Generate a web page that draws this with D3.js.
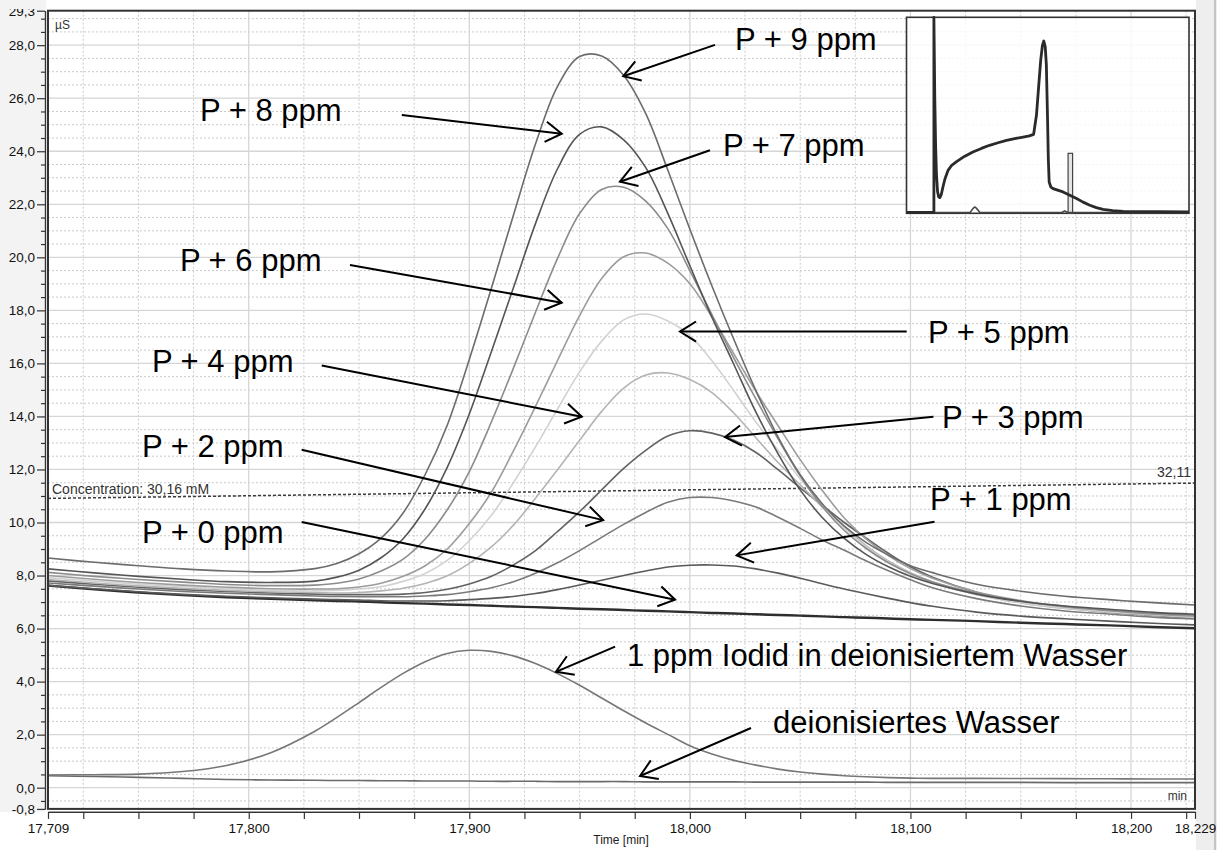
<!DOCTYPE html>
<html>
<head>
<meta charset="utf-8">
<script src="https://cdn.jsdelivr.net/npm/d3@7/dist/d3.min.js"></script>
<style>
  body { margin: 0; background: #fff; }
  text { font-family: "Liberation Sans", Arial, sans-serif; }
</style>
</head>
<body>
<div id="graphic"></div>
<script>
// sample times (min), shared by all traces
var times = [17.709, 17.73, 17.75, 17.77, 17.79, 17.81, 17.83, 17.84, 17.85, 17.86, 17.87, 17.88, 17.89, 17.90,
  17.91, 17.92, 17.93, 17.94, 17.95, 17.96, 17.97, 17.98, 17.99, 18.00, 18.01, 18.02, 18.03, 18.04, 18.05,
  18.06, 18.07, 18.08, 18.09, 18.10, 18.11, 18.13, 18.15, 18.17, 18.19, 18.21, 18.229];

// conductivity in µS
var p9 = [8.66, 8.50, 8.37, 8.25, 8.17, 8.14, 8.26, 8.45, 8.82, 9.41, 10.36, 11.81, 13.67, 16.15, 18.83, 21.59, 24.27,
  26.45, 27.57, 27.59, 26.86, 25.42, 23.29, 21.06, 18.92, 16.89, 14.96, 13.22, 11.80, 10.71, 9.86, 9.24, 8.77, 8.37,
  8.11, 7.67, 7.41, 7.22, 7.09, 6.98, 6.89];
var p8 = [8.25, 8.10, 7.97, 7.86, 7.77, 7.74, 7.79, 7.94, 8.20, 8.67, 9.39, 10.52, 12.08, 14.09, 16.44, 18.85, 21.27,
  23.34, 24.64, 24.92, 24.43, 23.38, 21.66, 19.68, 17.74, 15.95, 14.15, 12.59, 11.23, 10.19, 9.40, 8.79, 8.33, 7.97,
  7.70, 7.30, 7.03, 6.85, 6.73, 6.61, 6.54];
var p7 = [8.12, 7.97, 7.85, 7.75, 7.66, 7.62, 7.64, 7.71, 7.87, 8.17, 8.62, 9.38, 10.48, 11.92, 13.79, 15.82, 17.93,
  19.96, 21.65, 22.56, 22.64, 22.12, 21.08, 19.50, 17.84, 16.19, 14.65, 13.15, 11.76, 10.60, 9.70, 9.02, 8.48, 8.07,
  7.76, 7.34, 7.03, 6.84, 6.68, 6.58, 6.50];
var p6 = [8.00, 7.86, 7.74, 7.64, 7.56, 7.50, 7.49, 7.50, 7.57, 7.71, 7.97, 8.37, 9.00, 9.96, 11.14, 12.70, 14.38,
  16.11, 17.80, 19.20, 20.02, 20.16, 19.78, 19.00, 17.75, 16.35, 14.94, 13.65, 12.37, 11.21, 10.17, 9.37, 8.75, 8.26,
  7.90, 7.38, 7.06, 6.82, 6.68, 6.54, 6.47];
var p5 = [7.92, 7.79, 7.67, 7.58, 7.50, 7.44, 7.42, 7.44, 7.49, 7.58, 7.78, 8.08, 8.57, 9.31, 10.27, 11.50, 12.85,
  14.28, 15.68, 16.84, 17.64, 17.86, 17.60, 17.05, 16.10, 14.96, 13.78, 12.72, 11.65, 10.67, 9.79, 9.07, 8.51, 8.08,
  7.74, 7.28, 6.98, 6.77, 6.64, 6.52, 6.43];
var p4 = [7.85, 7.72, 7.61, 7.52, 7.44, 7.39, 7.36, 7.34, 7.36, 7.42, 7.52, 7.70, 7.99, 8.46, 9.08, 9.90, 10.91,
  11.99, 13.10, 14.19, 15.07, 15.56, 15.64, 15.39, 14.90, 14.12, 13.19, 12.26, 11.42, 10.59, 9.82, 9.12, 8.55, 8.11,
  7.77, 7.29, 6.97, 6.76, 6.62, 6.51, 6.42];
var p3 = [7.80, 7.67, 7.56, 7.47, 7.40, 7.34, 7.30, 7.28, 7.28, 7.28, 7.30, 7.36, 7.48, 7.68, 7.97, 8.40, 8.94,
  9.66, 10.41, 11.23, 12.04, 12.72, 13.26, 13.46, 13.37, 13.10, 12.64, 11.99, 11.31, 10.65, 10.00, 9.41, 8.84, 8.33,
  7.94, 7.37, 7.01, 6.79, 6.62, 6.50, 6.41];
var p2 = [7.72, 7.60, 7.49, 7.40, 7.33, 7.28, 7.23, 7.21, 7.20, 7.20, 7.20, 7.23, 7.28, 7.39, 7.54, 7.77, 8.09,
  8.48, 8.94, 9.44, 9.93, 10.38, 10.76, 10.94, 10.94, 10.81, 10.58, 10.20, 9.78, 9.34, 8.95, 8.55, 8.18, 7.84,
  7.54, 7.13, 6.85, 6.66, 6.55, 6.43, 6.36];
var p1 = [7.63, 7.50, 7.39, 7.29, 7.22, 7.16, 7.11, 7.09, 7.08, 7.05, 7.04, 7.04, 7.05, 7.09, 7.14, 7.21, 7.32,
  7.47, 7.64, 7.82, 8.00, 8.17, 8.32, 8.39, 8.40, 8.36, 8.25, 8.09, 7.90, 7.69, 7.49, 7.31, 7.14, 6.98,
  6.84, 6.62, 6.47, 6.37, 6.28, 6.20, 6.14];
var p0 = [7.62, 7.48, 7.36, 7.26, 7.18, 7.12, 7.07, 7.04, 7.02, 6.99, 6.96, 6.94, 6.91, 6.89, 6.86, 6.83, 6.81,
  6.78, 6.75, 6.73, 6.70, 6.67, 6.65, 6.62, 6.59, 6.57, 6.54, 6.51, 6.49, 6.46, 6.43, 6.41, 6.38, 6.35,
  6.33, 6.28, 6.22, 6.17, 6.12, 6.06, 6.01];
var iodide = [0.48, 0.49, 0.51, 0.61, 0.84, 1.32, 2.13, 2.65, 3.21, 3.78, 4.31, 4.75, 5.06, 5.18, 5.14, 4.97, 4.68,
  4.30, 3.86, 3.38, 2.90, 2.44, 2.01, 1.58, 1.27, 1.03, 0.85, 0.70, 0.59, 0.51, 0.45, 0.41, 0.38, 0.36,
  0.35, 0.35, 0.345, 0.34, 0.335, 0.33, 0.33];
var water = [0.45, 0.42, 0.39, 0.35, 0.31, 0.29, 0.28, 0.27, 0.27, 0.26, 0.26, 0.25, 0.25, 0.25, 0.24, 0.24, 0.24,
  0.23, 0.23, 0.23, 0.23, 0.22, 0.22, 0.22, 0.22, 0.22, 0.21, 0.21, 0.21, 0.21, 0.21, 0.21, 0.20, 0.20,
  0.20, 0.20, 0.20, 0.19, 0.19, 0.19, 0.19];

var curveNames = ["P + 9 ppm", "P + 8 ppm", "P + 7 ppm", "P + 6 ppm", "P + 5 ppm", "P + 4 ppm", "P + 3 ppm",
  "P + 2 ppm", "P + 1 ppm", "P + 0 ppm", "1 ppm Iodid in deionisiertem Wasser", "deionisiertes Wasser"];

// axis ticks
var yTickValues = [-0.8, 0, 2, 4, 6, 8, 10, 12, 14, 16, 18, 20, 22, 24, 26, 28, 29.3];
var xTickValues = [17.709, 17.8, 17.9, 18.0, 18.1, 18.2, 18.229];

// eluent concentration (mM), start and end of window
var concTimes = [17.709, 18.229];
var concentration = [30.16, 32.11];

// overview thumbnail (relative units 0-100)
var insetU = [0, 9.7, 9.7, 10.0, 10.3, 10.6, 11.0, 11.4, 11.8, 12.3, 12.9, 13.6, 14.7, 16.0, 17.6, 20.5, 23.5,
  26.5, 29.4, 32.4, 35.4, 38.3, 41.3, 43.5, 45.0, 46.0, 46.8, 47.5, 48.1, 48.6, 49.1, 49.5, 49.9, 50.2, 50.5,
  51.1, 51.9, 53.5, 55.4, 57.8, 60.2, 62.5, 64.9, 67.2, 69.6, 73.0, 76.7, 100];
var insetV = [0.5, 0.5, 100, 60, 35, 20, 11, 8.4, 8.0, 9.5, 13.4, 17.5, 21.9, 24.5, 26.2, 29.0, 31.3,
  33.1, 34.7, 36.0, 37.2, 38.1, 38.9, 39.5, 40.3, 50, 65, 78, 85.5, 87.9, 85, 76, 50, 28, 16,
  13.4, 12.6, 11.8, 10.9, 9.2, 7.5, 5.7, 4.1, 2.9, 2.0, 1.4, 1.0, 0.7];
var insetBaseU = [0, 22.5, 23.6, 24.2, 24.8, 26, 55, 56, 57, 100];
var insetBaseV = [0.4, 0.4, 2.5, 3.2, 2.5, 0.4, 0.4, 1.2, 0.4, 0.4];
var insetMarker = [57.2, 58.8, 30.6];

(function() {
  var margin = { top: 10.7, left: 48, right: 22, bottom: 41.1 },
    width = 1217 - margin.left - margin.right,
    height = 850 - margin.top - margin.bottom;

  var locale = d3.formatLocale({ decimal: ",", thousands: ".", grouping: [3], currency: ["", ""], minus: "-" });

  var root = d3.select("#graphic")
    .append("svg")
    .attr("width", 1217)
    .attr("height", 850);

  // grey margins like the instrument software
  root.append("rect").attr("x", 0).attr("y", 0).attr("width", 45).attr("height", 812).attr("fill", "#f3f3f3");
  root.append("rect").attr("x", 1196).attr("y", 0).attr("width", 21).attr("height", 850).attr("fill", "#eeeeee");
  root.append("line").attr("x1", 1215).attr("x2", 1215).attr("y1", 0).attr("y2", 850)
    .attr("stroke", "#9a9a9a").attr("stroke-width", 1);

  var svg = root.append("g")
    .attr("transform", "translate(" + margin.left + "," + margin.top + ")");

  var xPositionScale = d3.scaleLinear()
    .domain([17.709, 18.229])
    .range([0, width]);

  var yPositionScale = d3.scaleLinear()
    .domain([-0.8, 29.3])
    .range([height, 0]);

  // hidden secondary axis for the concentration trace
  var concScale = d3.scaleLinear()
    .domain([-9.4, 92.3])
    .range([height, 0]);

  svg.append("rect")
    .attr("width", width)
    .attr("height", height)
    .attr("fill", "#fff");

  /*
    Grid: solid at the labelled steps, dotted in between
  */
  var yMinor = d3.range(-0.5, 29.3, 0.5).filter(function(d) { return Math.abs(d / 2 - Math.round(d / 2)) > 0.01 });
  var yMajor = d3.range(0, 29, 2);
  var xMinor = d3.range(17.725, 18.229, 0.025).filter(function(d) { return Math.abs(d * 10 - Math.round(d * 10)) > 0.01 });
  var xMajor = [17.8, 17.9, 18.0, 18.1, 18.2];

  svg.append("g")
    .attr("class", "grid")
    .selectAll("line.yminor")
    .data(yMinor)
    .enter().append("line")
    .attr("x1", 0).attr("x2", width)
    .attr("y1", function(d) { return yPositionScale(d) })
    .attr("y2", function(d) { return yPositionScale(d) })
    .attr("stroke", "#c9c9c9")
    .attr("stroke-dasharray", "2,2");

  svg.append("g")
    .selectAll("line")
    .data(xMinor)
    .enter().append("line")
    .attr("y1", 0).attr("y2", height)
    .attr("x1", function(d) { return xPositionScale(d) })
    .attr("x2", function(d) { return xPositionScale(d) })
    .attr("stroke", "#c9c9c9")
    .attr("stroke-dasharray", "2,2");

  svg.append("g")
    .selectAll("line")
    .data(yMajor)
    .enter().append("line")
    .attr("x1", 0).attr("x2", width)
    .attr("y1", function(d) { return yPositionScale(d) })
    .attr("y2", function(d) { return yPositionScale(d) })
    .attr("stroke", "#d6d6d6")
    .attr("stroke-width", 1.3);

  svg.append("g")
    .selectAll("line")
    .data(xMajor)
    .enter().append("line")
    .attr("y1", 0).attr("y2", height)
    .attr("x1", function(d) { return xPositionScale(d) })
    .attr("x2", function(d) { return xPositionScale(d) })
    .attr("stroke", "#d6d6d6")
    .attr("stroke-width", 1.3);

  /*
    Concentration trace
  */
  var concLine = d3.line()
    .x(function(d, i) { return xPositionScale(concTimes[i]) })
    .y(function(d) { return concScale(d) });

  svg.append("path")
    .datum(concentration)
    .attr("d", concLine)
    .attr("fill", "none")
    .attr("stroke", "#3a3a3a")
    .attr("stroke-width", 1.5)
    .attr("stroke-dasharray", "3,2");

  svg.append("text")
    .attr("x", xPositionScale(concTimes[0]) + 4)
    .attr("y", concScale(concentration[0]) - 4)
    .attr("font-size", 14)
    .attr("fill", "#333")
    .text("Concentration: " + locale.format(".2f")(concentration[0]) + " mM");

  svg.append("text")
    .attr("x", xPositionScale(concTimes[1]) - 4)
    .attr("y", concScale(concentration[1]) - 6)
    .attr("font-size", 14)
    .attr("text-anchor", "end")
    .attr("fill", "#333")
    .text(locale.format(".2f")(concentration[1]));

  /*
    Chromatogram traces
  */
  var series = [p9, p8, p7, p6, p5, p4, p3, p2, p1, p0, iodide, water];
  var strokes = ["#6c6c6c", "#555555", "#8c8c8c", "#9c9c9c", "#d2d2d2", "#b4b4b4", "#626262",
    "#7a7a7a", "#5a5a5a", "#2e2e2e", "#777777", "#6a6a6a"];
  var widths = [1.6, 1.6, 1.6, 1.6, 1.6, 1.6, 1.6, 1.6, 1.6, 2.4, 1.6, 1.6];

  var line = d3.line()
    .curve(d3.curveCatmullRom.alpha(0.5))
    .x(function(d, i) { return xPositionScale(times[i]) })
    .y(function(d) { return yPositionScale(d) });

  svg.append("g")
    .attr("class", "traces")
    .selectAll("path")
    .data(series.slice().reverse())
    .enter().append("path")
    .attr("d", line)
    .attr("fill", "none")
    .attr("stroke", function(d, i) { return strokes[series.length - 1 - i] })
    .attr("stroke-width", function(d, i) { return widths[series.length - 1 - i] });

  // plot frame
  svg.append("rect")
    .attr("width", width)
    .attr("height", height)
    .attr("fill", "none")
    .attr("stroke", "#333")
    .attr("stroke-width", 2);

  svg.append("text")
    .attr("x", 7).attr("y", 18)
    .attr("font-size", 12)
    .attr("fill", "#333")
    .text("µS");

  svg.append("text")
    .attr("x", width - 8).attr("y", height - 9)
    .attr("font-size", 12)
    .attr("text-anchor", "end")
    .attr("fill", "#333")
    .text("min");

  /*
    Overview thumbnail in the corner
  */
  var inset = { x: 858.5, y: 6.6, w: 282.5, h: 196 };
  var ix = d3.scaleLinear().domain([0, 100]).range([inset.x, inset.x + inset.w]);
  var iy = d3.scaleLinear().domain([0, 100]).range([inset.y + inset.h, inset.y]);

  svg.append("rect")
    .attr("x", inset.x).attr("y", inset.y)
    .attr("width", inset.w).attr("height", inset.h)
    .attr("fill", "#fff")
    .attr("fill-opacity", 0.82)
    .attr("stroke", "#333")
    .attr("stroke-width", 1.6);

  svg.append("rect")
    .attr("x", ix(insetMarker[0])).attr("y", iy(insetMarker[2]))
    .attr("width", ix(insetMarker[1]) - ix(insetMarker[0]))
    .attr("height", iy(0) - iy(insetMarker[2]))
    .attr("fill", "#e4e4e4")
    .attr("stroke", "#444")
    .attr("stroke-width", 1.2);

  var insetLine = d3.line()
    .x(function(d) { return ix(d[0]) })
    .y(function(d) { return iy(d[1]) });

  svg.append("path")
    .datum(insetBaseU.map(function(u, i) { return [u, insetBaseV[i]] }))
    .attr("d", insetLine)
    .attr("fill", "none")
    .attr("stroke", "#444")
    .attr("stroke-width", 1.5);

  svg.append("path")
    .datum(insetU.map(function(u, i) { return [u, insetV[i]] }))
    .attr("d", insetLine)
    .attr("fill", "none")
    .attr("stroke", "#2a2a2a")
    .attr("stroke-width", 2.8)
    .attr("stroke-linejoin", "round");

  /*
    Axes
  */
  var yAxis = d3.axisLeft(yPositionScale)
    .tickValues(yTickValues)
    .tickSize(8)
    .tickSizeOuter(0)
    .tickPadding(2)
    .tickFormat(locale.format(".1f"));

  var yAxisMinor = d3.axisLeft(yPositionScale)
    .tickValues(yMinor)
    .tickSize(4)
    .tickSizeOuter(0)
    .tickFormat("");

  svg.append("g")
    .attr("class", "axis y-axis")
    .attr("transform", "translate(-3,0)")
    .call(yAxisMinor);

  svg.append("g")
    .attr("class", "axis y-axis")
    .attr("transform", "translate(-3,0)")
    .call(yAxis);

  var xAxis = d3.axisBottom(xPositionScale)
    .tickValues(xTickValues)
    .tickSize(7)
    .tickSizeOuter(0)
    .tickPadding(5)
    .tickFormat(locale.format(".3f"));

  var xAxisMinor = d3.axisBottom(xPositionScale)
    .tickValues(xMinor)
    .tickSize(7)
    .tickSizeOuter(0)
    .tickFormat("");

  svg.append("g")
    .attr("class", "axis x-axis")
    .attr("transform", "translate(0," + (height + 3) + ")")
    .call(xAxisMinor);

  svg.append("g")
    .attr("class", "axis x-axis")
    .attr("transform", "translate(0," + (height + 3) + ")")
    .call(xAxis);

  svg.selectAll(".axis .domain").attr("stroke", "#333").attr("stroke-width", 1.2);
  svg.selectAll(".axis .tick line").attr("stroke", "#333").attr("stroke-width", 1.2);
  svg.selectAll(".axis text")
    .attr("font-family", "'Liberation Sans', Arial, sans-serif")
    .attr("font-size", 13.5)
    .attr("fill", "#111");

  svg.append("text")
    .attr("x", xPositionScale(17.9688))
    .attr("y", height + 35)
    .attr("font-size", 12)
    .attr("text-anchor", "middle")
    .attr("fill", "#222")
    .text("Time [min]");

  // the top tick label is cut by the edge of the screenshot
  root.append("rect").attr("x", 0).attr("y", 0).attr("width", 46).attr("height", 9).attr("fill", "#f3f3f3");

  /*
    Annotations: label anchor, arrow tail, arrow tip (time, µS)
  */
  var notes = [
    { label: [18.0205, 27.81], tail: [18.0114, 28.01], tip: [17.9698, 26.83] },
    { label: [17.7779, 25.14], tail: [17.8694, 25.37], tip: [17.9419, 24.66] },
    { label: [18.0150, 23.82], tail: [18.0091, 24.04], tip: [17.9683, 22.85] },
    { label: [17.7688, 19.48], tail: [17.8459, 19.71], tip: [17.9419, 18.29] },
    { label: [18.1080, 16.77], tail: [18.0983, 17.20], tip: [17.9955, 17.20] },
    { label: [17.7561, 15.68], tail: [17.8331, 15.92], tip: [17.9510, 13.99] },
    { label: [18.1143, 13.56], tail: [18.1104, 13.99], tip: [18.0159, 13.22] },
    { label: [17.7516, 12.47], tail: [17.8240, 12.74], tip: [17.9607, 10.09] },
    { label: [18.1089, 10.47], tail: [18.1109, 10.03], tip: [18.0212, 8.76] },
    { label: [17.7516, 9.23], tail: [17.8240, 10.02], tip: [17.9933, 7.09] },
    { label: [17.9715, 4.59], tail: [17.9661, 5.32], tip: [17.9393, 4.37] },
    { label: [18.0377, 2.06], tail: [18.0277, 2.25], tip: [17.9774, 0.44] }
  ];

  function arrowHead(x1, y1, x2, y2) {
    var a = Math.atan2(y2 - y1, x2 - x1), len = 19, s = 0.56;
    return "M" + (x2 - len * Math.cos(a - s)) + "," + (y2 - len * Math.sin(a - s)) +
      "L" + x2 + "," + y2 +
      "L" + (x2 - len * Math.cos(a + s)) + "," + (y2 - len * Math.sin(a + s));
  }

  var notesG = svg.append("g").attr("class", "notes");

  notes.forEach(function(n, i) {
    var x1 = xPositionScale(n.tail[0]), y1 = yPositionScale(n.tail[1]),
      x2 = xPositionScale(n.tip[0]), y2 = yPositionScale(n.tip[1]);

    notesG.append("line")
      .attr("x1", x1).attr("y1", y1)
      .attr("x2", x2).attr("y2", y2)
      .attr("stroke", "#000")
      .attr("stroke-width", 2);

    notesG.append("path")
      .attr("d", arrowHead(x1, y1, x2, y2))
      .attr("fill", "none")
      .attr("stroke", "#000")
      .attr("stroke-width", 2);

    notesG.append("text")
      .attr("x", xPositionScale(n.label[0]))
      .attr("y", yPositionScale(n.label[1]))
      .attr("font-size", 31)
      .attr("fill", "#000")
      .text(curveNames[i]);
  });
})();
</script>
</body>
</html>
